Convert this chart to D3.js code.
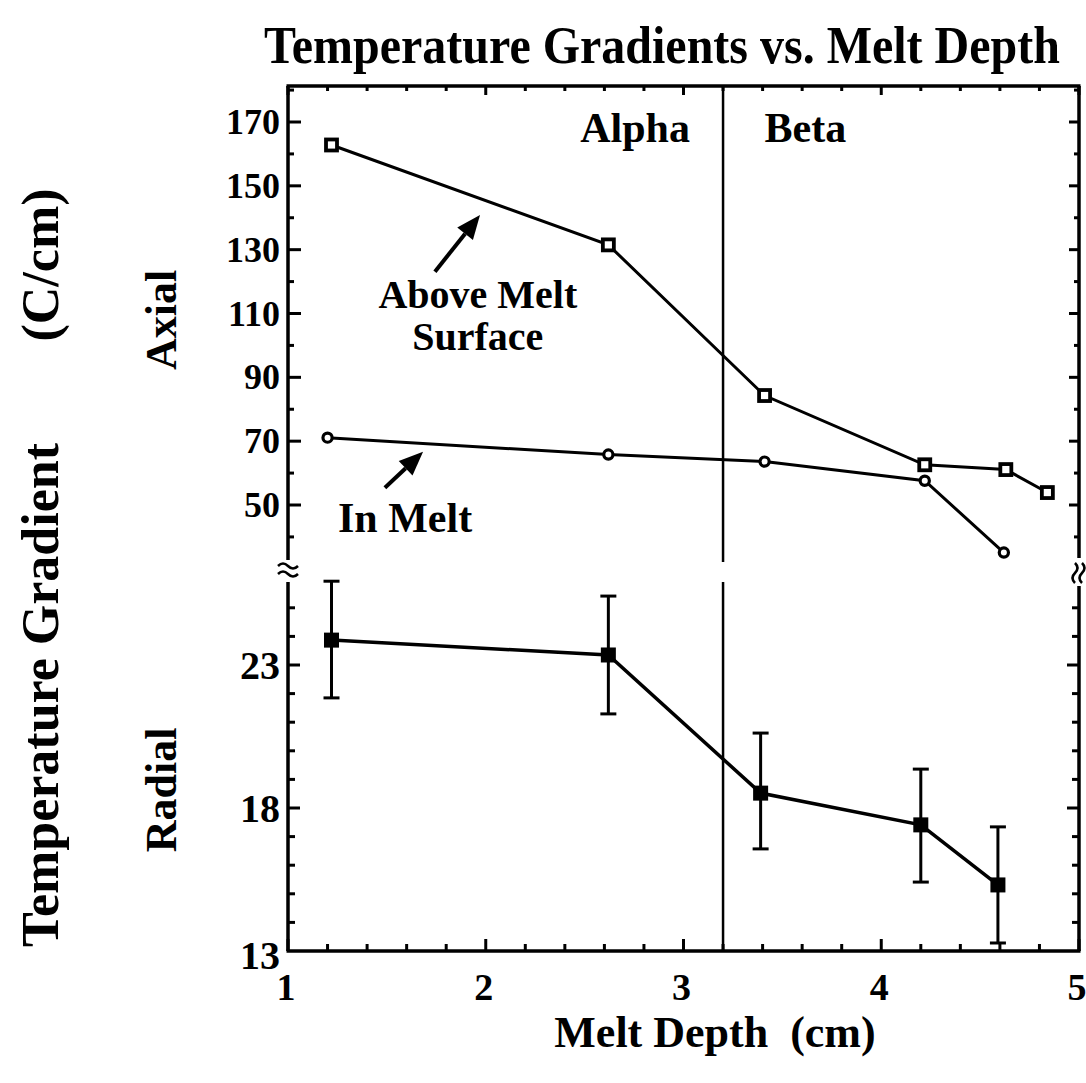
<!DOCTYPE html>
<html>
<head>
<meta charset="utf-8">
<script src="https://cdn.jsdelivr.net/npm/d3@7"></script>
<style>
  html, body { margin: 0; padding: 0; background: #fff; }
  svg text { font-family: "Liberation Serif", "Times New Roman", serif; font-weight: bold; fill: #000; }
</style>
</head>
<body>
<svg id="chart" width="1086" height="1083"></svg>
<script>
// ---------------- DATA ----------------
const title = "Temperature Gradients vs. Melt Depth";
const xTickValues = [1, 2, 3, 4, 5];
const axialTickValues = [50, 70, 90, 110, 130, 150, 170];
const radialTickValues = [13, 18, 23];

// Axial gradient, above melt surface (open squares)
const aboveDepth = [1.22, 2.62, 3.41, 4.22, 4.63, 4.84];
const aboveGrad  = [162.8, 131.5, 84.3, 62.6, 61.1, 53.9];

// Axial gradient, in melt (open circles)
const inMeltDepth = [1.20, 2.62, 3.41, 4.22, 4.62];
const inMeltGrad  = [71.1, 65.8, 63.6, 57.6, 35.1];

// Radial gradient (filled squares with error bars)
const radialDepth = [1.22, 2.62, 3.39, 4.20, 4.59];
const radialGrad  = [23.87, 23.35, 18.52, 17.41, 15.31];
const radialHigh  = [25.93, 25.41, 20.62, 19.36, 17.34];
const radialLow   = [21.85, 21.29, 16.57, 15.41, 13.28];

// Alpha / Beta boundary
const phaseBoundary = 3.2;

// ---------------- LAYOUT ----------------
const svg = d3.select("#chart");
const L = 288, R = 1079, T = 86, B = 951;
const upperBreak = 560, lowerBreak = 582;

const x = d3.scaleLinear().domain([1, 5]).range([L, R]);
const yA = d3.scaleLinear().domain([50, 170]).range([505, 122]);   // axial (upper panel)
const yR = d3.scaleLinear().domain([13, 23]).range([B, 665]);      // radial (lower panel)

const black = "#000";

// Title
svg.append("text").attr("transform", "translate(662,63) scale(1,1.12)").attr("text-anchor", "middle")
  .attr("font-size", 48).text(title);

// Frame
const frame = svg.append("g").attr("stroke", black).attr("stroke-width", 3.5).attr("fill", "none");
frame.append("line").attr("x1", L - 1.5).attr("x2", R + 1.5).attr("y1", T).attr("y2", T);
frame.append("line").attr("x1", L - 1.5).attr("x2", R + 1.5).attr("y1", B).attr("y2", B);
frame.append("line").attr("x1", L).attr("x2", L).attr("y1", T).attr("y2", upperBreak);
frame.append("line").attr("x1", L).attr("x2", L).attr("y1", lowerBreak).attr("y2", B);
frame.append("line").attr("x1", R).attr("x2", R).attr("y1", T).attr("y2", upperBreak - 2);
frame.append("line").attr("x1", R).attr("x2", R).attr("y1", lowerBreak + 4).attr("y2", B);

// Break symbols
function wave(x0, y0, w) {
  return `M${x0},${y0} q${w/4},-5 ${w/2},0 t${w/2},0`;
}
const brk = svg.append("g").attr("stroke", black).attr("stroke-width", 2.5).attr("fill", "none");
brk.append("path").attr("d", wave(L - 10, 566, 20));
brk.append("path").attr("d", wave(L - 10, 574, 20));
function vwave(x0, y0, h) {
  return `M${x0},${y0} q5,${h/4} 0,${h/2} t0,${h/2}`;
}
brk.append("path").attr("d", vwave(R - 4, 563, 20));
brk.append("path").attr("d", vwave(R + 3, 563, 20));

// Ticks
const tk = svg.append("g").attr("stroke", black).attr("stroke-width", 3);
d3.range(1, 5.0001, 0.2).forEach(v => {
  const major = Math.abs(v - Math.round(v)) < 1e-6;
  tk.append("line").attr("x1", x(v)).attr("x2", x(v)).attr("y1", B).attr("y2", B - (major ? 12 : 7));
  tk.append("line").attr("x1", x(v)).attr("x2", x(v)).attr("y1", T).attr("y2", T + (major ? 9 : 5));
});
d3.range(40, 181, 10).forEach(v => {
  const major = v % 20 === 10;
  tk.append("line").attr("x1", L).attr("x2", L + (major ? 13 : 6)).attr("y1", yA(v)).attr("y2", yA(v));
  tk.append("line").attr("x1", R).attr("x2", R - (major ? 10 : 5)).attr("y1", yA(v)).attr("y2", yA(v));
});
d3.range(14, 26, 1).forEach(v => {
  const major = radialTickValues.includes(v);
  tk.append("line").attr("x1", L).attr("x2", L + (major ? 12 : 7)).attr("y1", yR(v)).attr("y2", yR(v));
  tk.append("line").attr("x1", R).attr("x2", R - (major ? 12 : 7)).attr("y1", yR(v)).attr("y2", yR(v));
});

// Tick labels
xTickValues.forEach(v => {
  svg.append("text").attr("x", x(v) - 2).attr("y", 1000).attr("text-anchor", "middle")
    .attr("font-size", 38).text(v);
});
axialTickValues.forEach(v => {
  svg.append("text").attr("x", 280).attr("y", yA(v) + 12)
    .attr("text-anchor", "end").attr("font-size", 36).text(v);
});
radialTickValues.forEach(v => {
  const dy = v === 13 ? 18 : 14;
  svg.append("text").attr("x", 280).attr("y", yR(v) + dy).attr("text-anchor", "end")
    .attr("font-size", 40).text(v);
});

// Axis titles
svg.append("text").attr("x", 715).attr("y", 1047).attr("text-anchor", "middle")
  .attr("font-size", 44).attr("xml:space", "preserve").text("Melt Depth  (cm)");
svg.append("text").attr("transform", "translate(58,695) rotate(-90)")
  .attr("text-anchor", "middle").attr("font-size", 52).text("Temperature Gradient");
svg.append("text").attr("transform", "translate(58,265) rotate(-90)")
  .attr("text-anchor", "middle").attr("font-size", 52).text("(C/cm)");
svg.append("text").attr("transform", "translate(176,320) rotate(-90)")
  .attr("text-anchor", "middle").attr("font-size", 44).text("Axial");
svg.append("text").attr("transform", "translate(176,790) rotate(-90)")
  .attr("text-anchor", "middle").attr("font-size", 44).text("Radial");

// Phase boundary
const pb = svg.append("g").attr("stroke", black).attr("stroke-width", 2.5);
pb.append("line").attr("x1", x(phaseBoundary)).attr("x2", x(phaseBoundary)).attr("y1", T).attr("y2", upperBreak + 2);
pb.append("line").attr("x1", x(phaseBoundary)).attr("x2", x(phaseBoundary)).attr("y1", lowerBreak).attr("y2", B);
svg.append("text").attr("x", x(2.755)).attr("y", yA(163.7)).attr("text-anchor", "middle")
  .attr("font-size", 42).text("Alpha");
svg.append("text").attr("x", x(3.41)).attr("y", yA(163.7)).attr("text-anchor", "start")
  .attr("font-size", 42).text("Beta");

// Series lines
const lineA = d3.line().x(d => x(d[0])).y(d => yA(d[1]));
const lineR = d3.line().x(d => x(d[0])).y(d => yR(d[1]));
const above = d3.zip(aboveDepth, aboveGrad);
const inMelt = d3.zip(inMeltDepth, inMeltGrad);
const radial = d3.zip(radialDepth, radialGrad);

svg.append("path").datum(above).attr("d", lineA).attr("fill", "none").attr("stroke", black).attr("stroke-width", 3);
svg.append("path").datum(inMelt).attr("d", lineA).attr("fill", "none").attr("stroke", black).attr("stroke-width", 3);
svg.append("path").datum(radial).attr("d", lineR).attr("fill", "none").attr("stroke", black).attr("stroke-width", 3.5);

// Error bars
const eb = svg.append("g").attr("stroke", black).attr("stroke-width", 3);
radialDepth.forEach((d, i) => {
  const cx = x(d);
  eb.append("line").attr("x1", cx).attr("x2", cx).attr("y1", yR(radialHigh[i])).attr("y2", yR(radialLow[i]));
  eb.append("line").attr("x1", cx - 8).attr("x2", cx + 8).attr("y1", yR(radialHigh[i])).attr("y2", yR(radialHigh[i]));
  eb.append("line").attr("x1", cx - 8).attr("x2", cx + 8).attr("y1", yR(radialLow[i])).attr("y2", yR(radialLow[i]));
});

// Markers
svg.append("g").selectAll("rect").data(above).join("rect")
  .attr("x", d => x(d[0]) - 5.5).attr("y", d => yA(d[1]) - 5.5).attr("width", 11).attr("height", 11)
  .attr("fill", "#fff").attr("stroke", black).attr("stroke-width", 3.8);
svg.append("g").selectAll("circle").data(inMelt).join("circle")
  .attr("cx", d => x(d[0])).attr("cy", d => yA(d[1])).attr("r", 4.6)
  .attr("fill", "#fff").attr("stroke", black).attr("stroke-width", 3.2);
svg.append("g").selectAll("rect").data(radial).join("rect")
  .attr("x", d => x(d[0]) - 7.5).attr("y", d => yR(d[1]) - 7.5).attr("width", 15).attr("height", 15)
  .attr("fill", black);

// Annotations
function arrow(x0, y0, x1, y1) {
  const ang = Math.atan2(y1 - y0, x1 - x0);
  const hl = 24, hw = 10;
  const bx = x1 - hl * Math.cos(ang), by = y1 - hl * Math.sin(ang);
  svg.append("line").attr("x1", x0).attr("y1", y0).attr("x2", bx).attr("y2", by)
    .attr("stroke", black).attr("stroke-width", 4);
  const px = -Math.sin(ang) * hw, py = Math.cos(ang) * hw;
  svg.append("path").attr("d", `M${x1},${y1} L${bx + px},${by + py} L${bx - px},${by - py} Z`).attr("fill", black);
}
arrow(x(1.743), yA(123.1), x(1.971), yA(140.9));
arrow(x(1.49), yA(55.4), x(1.683), yA(66.7));

svg.append("text").attr("x", x(1.96)).attr("y", yA(111.8)).attr("text-anchor", "middle")
  .attr("font-size", 40).text("Above Melt");
svg.append("text").attr("x", x(1.96)).attr("y", yA(98.6)).attr("text-anchor", "middle")
  .attr("font-size", 40).text("Surface");
svg.append("text").attr("x", x(1.253)).attr("y", yA(41.4)).attr("text-anchor", "start")
  .attr("font-size", 42).text("In Melt");
</script>
</body>
</html>
